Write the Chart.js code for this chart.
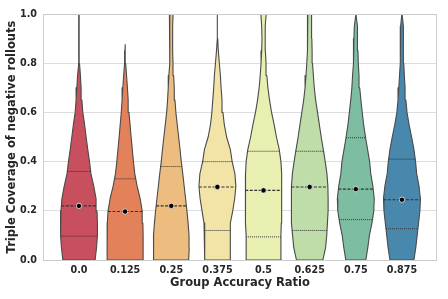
<!DOCTYPE html>
<html>
<head>
<meta charset="utf-8">
<script src="https://cdn.jsdelivr.net/npm/chart.js@4.4.0/dist/chart.umd.min.js"></script>
<style>
  html, body { margin: 0; padding: 0; background: #fff; }
</style>
</head>
<body>
<canvas id="chart-area" width="448" height="299"></canvas>
<script>
// group labels along x
var categories = ['0.0', '0.125', '0.25', '0.375', '0.5', '0.625', '0.75', '0.875'];
var colors = ['#c84f5d', '#e3815b', '#edbd80', '#f2e3a7', '#e8efb1', '#bfdda8', '#7dbea3', '#4888ad'];
var yTicks = [0, 0.2, 0.4, 0.6, 0.8, 1.0];

// density profile: half width of each violin (in group units) at these y levels
var levels = [0, 0.05, 0.1, 0.15, 0.2, 0.25, 0.3, 0.35, 0.4, 0.45, 0.5,
              0.55, 0.6, 0.65, 0.7, 0.75, 0.8, 0.85, 0.9, 0.95, 1.0, 1.05];
var width000 = [0.35, 0.38, 0.40, 0.40, 0.39, 0.37, 0.32, 0.26, 0.228, 0.19, 0.155,
                0.122, 0.083, 0.063, 0.046, 0.031, 0.012, 0.005, 0.003, 0.003, 0.003, null];
var width0125 = [0.39, 0.39, 0.39, 0.385, 0.37, 0.325, 0.26, 0.21, 0.18, 0.155, 0.13,
                 0.107, 0.083, 0.066, 0.05, 0.031, 0.012, 0.004, null, null, null, null];
var width025 = [0.377, 0.39, 0.385, 0.365, 0.34, 0.31, 0.28, 0.25, 0.217, 0.19, 0.16,
                0.13, 0.10, 0.08, 0.065, 0.052, 0.038, 0.03, 0.028, 0.032, 0.04, 0.045];
var width0375 = [0.275, 0.275, 0.276, 0.29, 0.333, 0.375, 0.40, 0.38, 0.32, 0.28, 0.20,
                 0.15, 0.12, 0.10, 0.08, 0.065, 0.042, 0.02, 0.008, 0.004, 0.003, null];
var width05 = [0.377, 0.377, 0.377, 0.385, 0.39, 0.395, 0.398, 0.39, 0.377, 0.34, 0.28,
               0.23, 0.174, 0.13, 0.095, 0.072, 0.054, 0.04, 0.033, 0.04, 0.058, 0.07];
var width0625 = [0.286, 0.345, 0.37, 0.385, 0.40, 0.40, 0.395, 0.375, 0.337, 0.295, 0.25,
                 0.21, 0.17, 0.13, 0.10, 0.08, 0.062, 0.053, 0.047, 0.043, 0.04, 0.04];
var width075 = [0.217, 0.26, 0.295, 0.35, 0.39, 0.40, 0.37, 0.325, 0.30, 0.255, 0.21,
                0.17, 0.14, 0.11, 0.085, 0.07, 0.054, 0.047, 0.04, 0.032, 0.025, null];
var width0875 = [0.26, 0.30, 0.33, 0.36, 0.39, 0.40, 0.37, 0.32, 0.295, 0.26, 0.21,
                 0.155, 0.11, 0.085, 0.068, 0.052, 0.04, 0.035, 0.032, 0.028, 0.025, null];
var widths = [width000, width0125, width025, width0375, width05, width0625, width075, width0875];
// where each violin's tail ends
var tops = [1.0, 0.876, 1.05, 1.0, 1.05, 1.05, 1.0, 1.0];

// inner quartile lines and mean markers
var q1 = [0.097, null, null, 0.12, 0.094, 0.12, 0.164, 0.127];
var medians = [0.22, 0.197, 0.22, 0.297, 0.283, 0.297, 0.288, 0.245];
var q3 = [0.36, 0.33, 0.38, 0.40, 0.442, 0.442, 0.497, 0.41];
var means = [0.22, 0.197, 0.22, 0.297, 0.283, 0.297, 0.288, 0.245];

var edgeColor = '#4a4a4a';
var textColor = '#262626';

function halfAt(w, y) {
  for (var k = 0; k < levels.length - 1; k++) {
    if (y >= levels[k] && y <= levels[k + 1]) {
      var a = w[k], b = w[k + 1];
      if (b == null) return a;
      var t = (y - levels[k]) / (levels[k + 1] - levels[k]);
      return a + (b - a) * t;
    }
  }
  return 0;
}

var datasets = [];

// mean dots (on top)
datasets.push({
  type: 'scatter',
  data: means.map(function (m, i) { return {x: i, y: m}; }),
  pointRadius: 2.7,
  pointBackgroundColor: '#000',
  pointBorderColor: '#eeeeee',
  pointBorderWidth: 0.8,
  order: 0
});

// quartile lines
function addQuart(vals, dash, lw) {
  vals.forEach(function (q, i) {
    if (q == null) return;
    var h = halfAt(widths[i], q);
    datasets.push({
      type: 'line',
      data: [{x: i - h, y: q}, {x: i + h, y: q}],
      borderColor: '#333333',
      borderWidth: lw,
      borderDash: dash,
      pointRadius: 0,
      fill: false,
      order: 1
    });
  });
}
addQuart(q1, [1, 1], 1);
addQuart(q3, [1, 1], 1);
addQuart(medians, [3, 1.5], 1.1);

// violin bodies
widths.forEach(function (w, i) {
  var right = [], left = [];
  for (var k = 0; k < levels.length; k++) {
    if (w[k] == null || levels[k] >= tops[i]) continue;
    right.push({x: i + w[k], y: levels[k]});
    left.unshift({x: i - w[k], y: levels[k]});
  }
  right.push({x: i + 0.002, y: tops[i]});
  left.unshift({x: i - 0.002, y: tops[i]});
  var pts = right.concat(left);
  pts.push(pts[0]);
  datasets.push({
    type: 'line',
    data: pts,
    borderColor: edgeColor,
    borderWidth: 1.1,
    borderJoinStyle: 'round',
    backgroundColor: colors[i],
    pointRadius: 0,
    fill: 'shape',
    order: 2
  });
});

var framePlugin = {
  id: 'frame',
  afterDatasetsDraw: function (chart) {
    var a = chart.chartArea, ctx = chart.ctx;
    ctx.save();
    ctx.strokeStyle = '#cccccc';
    ctx.lineWidth = 1;
    ctx.strokeRect(a.left + 0.5, a.top + 0.5, a.right - a.left - 1, a.bottom - a.top);
    ctx.restore();
  }
};

var config = {
  type: 'line',
  data: { datasets: datasets },
  options: {
    responsive: false,
    animation: false,
    layout: { padding: { top: 14, right: 11, left: 0, bottom: 0 } },
    plugins: { legend: { display: false }, tooltip: { enabled: false } },
    scales: {
      x: {
        type: 'linear',
        min: -0.78,
        max: 7.76,
        grid: { display: false, drawTicks: false },
        border: { display: false },
        afterBuildTicks: function (s) {
          s.ticks = categories.map(function (c, i) { return {value: i}; });
        },
        afterFit: function (s) { s.height = 39; },
        ticks: {
          autoSkip: false,
          maxRotation: 0,
          padding: 5,
          color: textColor,
          font: { family: 'DejaVu Sans', size: 9.6, weight: 'bold' },
          callback: function (v) { return categories[v]; }
        },
        title: {
          display: true,
          text: 'Group Accuracy Ratio',
          color: textColor,
          padding: { top: 0, bottom: 9 },
          font: { family: 'DejaVu Sans', size: 11.5, weight: 'bold' }
        }
      },
      y: {
        type: 'linear',
        min: 0,
        max: 1,
        afterBuildTicks: function (s) {
          s.ticks = yTicks.map(function (v) { return {value: v}; });
        },
        afterFit: function (s) { s.width = 43; },
        grid: { color: '#dddddd', drawTicks: false },
        border: { display: false },
        ticks: {
          padding: 6,
          color: textColor,
          font: { family: 'DejaVu Sans', size: 9.6, weight: 'bold' },
          callback: function (v) { return v.toFixed(1); }
        },
        title: {
          display: true,
          text: 'Triple Coverage of negative rollouts',
          color: textColor,
          padding: { top: 5, bottom: 0 },
          font: { family: 'DejaVu Sans', size: 11.5, weight: 'bold' }
        }
      }
    }
  },
  plugins: [framePlugin]
};

window.onload = function () {
  var ctx = document.getElementById('chart-area').getContext('2d');
  window.myViolin = new Chart(ctx, config);
};
</script>
</body>
</html>
